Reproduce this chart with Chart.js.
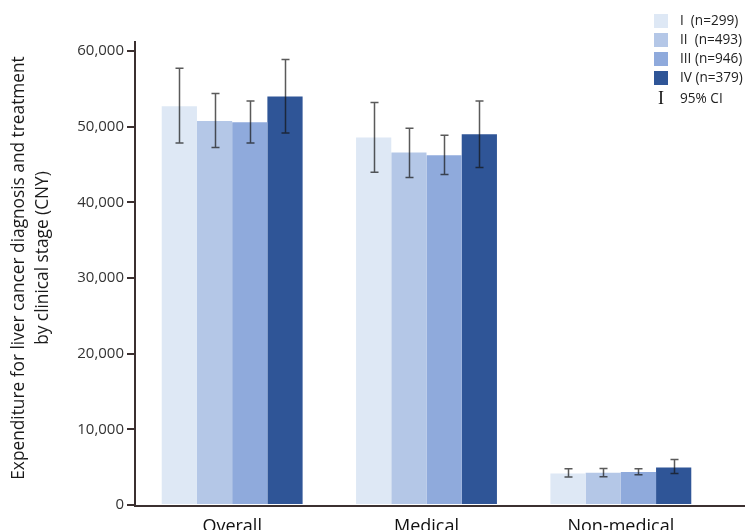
<!DOCTYPE html>
<html><head><meta charset="utf-8">
<script src="https://cdn.jsdelivr.net/npm/chart.js@4.4.0/dist/chart.umd.min.js"></script>
<style>html,body{margin:0;padding:0;background:#fff;}#wrap{width:745px;height:530px;}</style>
</head><body><div id="wrap"><canvas id="c" width="745" height="530"></canvas></div>
<script>
const categories = ["Overall", "Medical", "Non-medical"];
const stageLabels = ["I  (n=299)", "II  (n=493)", "III (n=946)", "IV (n=379)"];
const stageI   = [52700, 48570, 4180];
const stageII  = [50770, 46590, 4270];
const stageIII = [50590, 46240, 4370];
const stageIV  = [53990, 49010, 4970];
const lowI   = [47860, 43990, 3700];
const highI  = [57730, 53200, 4790];
const lowII  = [47250, 43290, 3750];
const highII = [54390, 49800, 4830];
const lowIII  = [47860, 43690, 4000];
const highIII = [53410, 48880, 4780];
const lowIV  = [49180, 44610, 4150];
const highIV = [58880, 53410, 6000];
const yTicks = [0, 10000, 20000, 30000, 40000, 50000, 60000];
const ciLabel = "95% CI";
const yTitle = ["Expenditure for liver cancer diagnosis and treatment", "by clinical stage (CNY)"];

const colors = ["#dee8f5", "#b4c7e7", "#8faadc", "#2f5597"];
const series = [stageI, stageII, stageIII, stageIV];
const lows = [lowI, lowII, lowIII, lowIV];
const highs = [highI, highII, highIII, highIV];
const FONT = "'Open Sans', sans-serif";
const AXIS = "#3b3030";

const extras = {
  id: 'extras',
  afterDatasetsDraw(chart) {
    const ctx = chart.ctx, y = chart.scales.y;
    ctx.save();
    ctx.strokeStyle = "rgba(20,20,20,0.7)";
    ctx.lineWidth = 1.5;
    series.forEach((s, d) => {
      const meta = chart.getDatasetMeta(d);
      meta.data.forEach((bar, i) => {
        const x = Math.round(bar.x) + 0.5;
        const yl = y.getPixelForValue(lows[d][i]);
        const yh = y.getPixelForValue(highs[d][i]);
        ctx.beginPath();
        ctx.moveTo(x, yl); ctx.lineTo(x, yh);
        ctx.moveTo(x - 4, yl); ctx.lineTo(x + 4, yl);
        ctx.moveTo(x - 4, yh); ctx.lineTo(x + 4, yh);
        ctx.stroke();
      });
    });
    ctx.restore();
  },
  afterDraw(chart) {
    const ctx = chart.ctx, a = chart.chartArea;
    ctx.save();
    ctx.strokeStyle = AXIS; ctx.lineWidth = 2;
    ctx.beginPath(); ctx.moveTo(a.left - 1, a.bottom + 1); ctx.lineTo(745, a.bottom + 1); ctx.stroke();
    ctx.fillStyle = "#1a1a1a";
    ctx.font = "17.3px " + FONT;
    ctx.textAlign = "center"; ctx.textBaseline = "middle";
    ctx.save(); ctx.translate(19, 268); ctx.rotate(-Math.PI / 2); ctx.fillText(yTitle[0], 0, 0); ctx.restore();
    ctx.save(); ctx.translate(43, 258); ctx.rotate(-Math.PI / 2); ctx.fillText(yTitle[1], 0, 0); ctx.restore();
    ctx.font = "13.6px " + FONT;
    ctx.textAlign = "left"; ctx.textBaseline = "middle";
    stageLabels.forEach((lab, i) => {
      const top = 14 + i * 19;
      ctx.fillStyle = colors[i];
      ctx.fillRect(654, top, 14, 14);
      ctx.fillStyle = "#222";
      ctx.fillText(lab, 680, top + 7);
    });
    ctx.font = "18px 'Liberation Serif', serif";
    ctx.textAlign = "center";
    ctx.fillStyle = "#111";
    ctx.fillText("I", 661, 99);
    ctx.font = "13.6px " + FONT;
    ctx.textAlign = "left";
    ctx.fillStyle = "#222";
    ctx.fillText(ciLabel, 680, 99);
    ctx.restore();
  }
};

new Chart(document.getElementById('c'), {
  type: 'bar',
  data: {
    labels: categories,
    datasets: series.map((s, i) => ({
      label: stageLabels[i], data: s, backgroundColor: colors[i],
      borderWidth: 0, barPercentage: 1.0, categoryPercentage: 0.725
    }))
  },
  options: {
    responsive: false, animation: false, devicePixelRatio: 1,
    layout: { padding: { left: 0, right: 27, top: 42, bottom: 0 } },
    plugins: { legend: { display: false }, tooltip: { enabled: false }, title: { display: false } },
    scales: {
      x: {
        grid: { display: false }, border: { display: false },
        ticks: { font: { family: FONT, size: 18 }, color: "#111", padding: 3, maxRotation: 0 },
        afterFit(s) { s.height = 25; }
      },
      y: {
        min: 0, max: 61200,
        afterBuildTicks(s) { s.ticks = yTicks.map(v => ({ value: v })); },
        afterFit(s) { s.width = 135; },
        grid: { drawOnChartArea: false, drawTicks: true, tickLength: 8, color: AXIS, lineWidth: 2 },
        border: { display: true, color: AXIS, width: 2 },
        ticks: {
          font: { family: FONT, size: 15 }, color: "#333", padding: 3,
          callback: v => v.toLocaleString('en-US')
        }
      }
    }
  },
  plugins: [extras]
});
</script></body></html>
